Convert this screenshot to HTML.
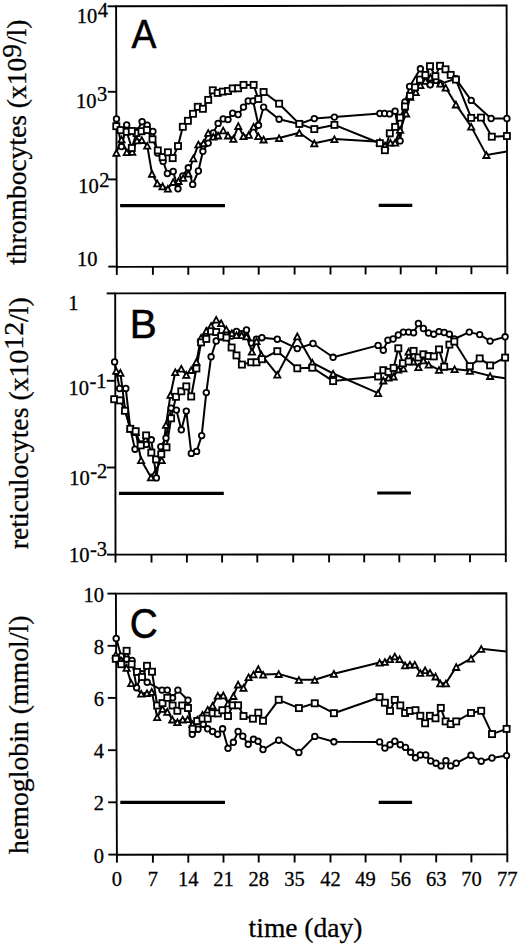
<!DOCTYPE html>
<html><head><meta charset="utf-8"><title>Figure</title>
<style>html,body{margin:0;padding:0;background:#fff;width:520px;height:944px;overflow:hidden}svg{display:block}</style>
</head><body>
<svg width="520" height="944" viewBox="0 0 520 944">
<rect width="520" height="944" fill="#fff"/>
<g fill="none" stroke="#000" stroke-width="1.9" stroke-linecap="butt">
<path d="M116.1 6.3L506.6 5.4L507.3 266.2L116.8 266.9Z"/><path d="M107.6 6.3H116.1"/><path d="M107.83 91.8H116.33"/><path d="M108.06 179.4H116.56"/><path d="M108.3 266.6H116.8"/><path d="M116.8 266.9V274.9"/><path d="M152.9 266.84V274.84"/><path d="M188.3 266.77V274.77"/><path d="M223.5 266.71V274.71"/><path d="M258.7 266.65V274.65"/><path d="M294.6 266.58V274.58"/><path d="M330.5 266.52V274.52"/><path d="M365.6 266.45V274.45"/><path d="M400.7 266.39V274.39"/><path d="M436.2 266.33V274.33"/><path d="M471.4 266.26V274.26"/><path d="M507.3 266.2V274.2"/>
<path d="M115.2 293.4L505.2 293L505.8 554.2L115.5 554.6Z"/><path d="M106.7 293.4H115.2"/><path d="M106.8 380.8H115.3"/><path d="M106.9 467.5H115.4"/><path d="M107 554.6H115.5"/><path d="M115.5 554.6V562.6"/><path d="M151.5 554.56V562.56"/><path d="M186.9 554.53V562.53"/><path d="M222.1 554.49V562.49"/><path d="M257.3 554.45V562.45"/><path d="M293.2 554.42V562.42"/><path d="M329.1 554.38V562.38"/><path d="M364.2 554.35V562.35"/><path d="M399.3 554.31V562.31"/><path d="M434.8 554.27V562.27"/><path d="M470 554.24V562.24"/><path d="M505.8 554.2V562.2"/>
<path d="M115.9 593.6L506.4 593.3L507.3 854.3L116.9 854.7Z"/><path d="M107.4 593.6H115.9"/><path d="M107.6 645.8H116.1"/><path d="M107.8 697.9H116.3"/><path d="M108 750.2H116.5"/><path d="M108.2 802.3H116.7"/><path d="M108.4 854.6H116.9"/><path d="M116.9 854.7V862.7"/><path d="M152.9 854.66V862.66"/><path d="M188.3 854.63V862.63"/><path d="M223.5 854.59V862.59"/><path d="M258.7 854.55V862.55"/><path d="M294.6 854.52V862.52"/><path d="M330.5 854.48V862.48"/><path d="M365.6 854.45V862.45"/><path d="M400.7 854.41V862.41"/><path d="M436.2 854.37V862.37"/><path d="M471.4 854.34V862.34"/><path d="M507.3 854.3V862.3"/>
</g>
<g stroke="#000" stroke-linecap="butt">
<path d="M120.1 205.6H225" stroke-width="3.2"/>
<path d="M378.7 205.4H412.3" stroke-width="3.2"/>
<path d="M118.9 493.4H223.8" stroke-width="3.2"/>
<path d="M377.2 493H410.9" stroke-width="3.2"/>
<path d="M120.3 802.4H225" stroke-width="3.2"/>
<path d="M378.7 802.4H412.1" stroke-width="3.2"/>
</g>
<g fill="none" stroke="#000" stroke-width="2.0" stroke-linejoin="round"><polyline points="116.5,118.9 121.5,146.6 126.7,124.9 131.8,131 137,131 142.1,121.7 147.2,125.2 152.9,131.4 157.6,153 163.1,161.4 167.4,173.5 173.2,171.5 178,188.8 182.8,175.9 188.3,167.8 192.7,184.4 198.4,171 202.9,151.3 208.2,143.1 213.3,132.9 218.1,123.4 223.2,118.9 228,119.6 232.7,113.2 238.1,114.5 243.5,107.1 248.2,101 253.1,101 258.5,125.3 263.6,107.1 279.1,119.2 299.3,124 314.3,118.6 334.4,117.1 379.9,113.5 384.6,113.5 389.6,113.9 395.1,111.2 400.1,140.9 405,101.9 409.6,86.5 420.4,68.8 425.4,76 430,84.6 436,80.4 440.7,83.6 455.9,78.8 471.2,100.4 491.1,118.5 506.9,118.5"/><polyline points="116.3,126.2 120.6,130.1 126.7,131.8 131.8,148 136.5,133 141.5,131.2 146.9,130 152.5,139.3 157.8,150.4 162.6,157.1 167.9,152.3 172.7,158.1 178,146.1 182.8,126.8 187.9,120.8 193,113.8 197.8,106.8 202.9,108.8 208.2,99.9 212.8,90.3 217.7,92.9 222.8,91.6 228,91 232.7,88.4 238.1,88.3 243.5,84.9 253.6,84.9 258.3,99 263.6,92 279.1,103.7 299.3,123.9 314.3,129.1 334.4,124.9 379.9,143.2 384.9,150.2 389.8,133.3 395.1,126.9 400.1,117.6 405,106.5 410,96 415,87.3 420,79.6 425.4,75 430,66.2 435.4,76.2 440,65.8 445.5,69.3 450.7,74.9 455.9,79.6 471.2,117.9 481,117.6 491.8,136.7 506.9,136"/><polyline points="116.4,152.7 121.5,139.3 126.8,152 132.2,151.8 137,140.3 141.8,139.9 147.2,145.5 152,173.7 157.3,183.3 162.6,186.2 167.9,188.6 173.2,181.9 178.5,180.9 183.2,177.8 188.3,173.5 193.3,158.3 198.4,144.3 203.5,143 208.2,132.8 213.3,136.6 218.1,135.4 223.2,130.3 228,135.4 233.4,138.7 238.3,125.9 243.5,136 248.8,134.7 253.6,126.6 258.3,136 263.6,139.4 279.1,138 299.3,132.7 314.3,143.2 334.4,139 379.9,141.8 385,145.3 390.4,142.5 395.1,142.5 400.1,129.7 406.1,113.4 410.2,96.8 415.8,92 420.4,85.1 425.5,80.8 430.4,77.4 440.4,83.5 445.7,87.6 455.9,104.4 471.2,126.6 486.4,154.9 506.9,151.5"/></g><g fill="#fff" stroke="#000" stroke-width="1.8"><circle cx="116.5" cy="118.9" r="2.8"/><circle cx="121.5" cy="146.6" r="2.8"/><circle cx="126.7" cy="124.9" r="2.8"/><circle cx="131.8" cy="131" r="2.8"/><circle cx="137" cy="131" r="2.8"/><circle cx="142.1" cy="121.7" r="2.8"/><circle cx="147.2" cy="125.2" r="2.8"/><circle cx="152.9" cy="131.4" r="2.8"/><circle cx="157.6" cy="153" r="2.8"/><circle cx="163.1" cy="161.4" r="2.8"/><circle cx="167.4" cy="173.5" r="2.8"/><circle cx="173.2" cy="171.5" r="2.8"/><circle cx="178" cy="188.8" r="2.8"/><circle cx="182.8" cy="175.9" r="2.8"/><circle cx="188.3" cy="167.8" r="2.8"/><circle cx="192.7" cy="184.4" r="2.8"/><circle cx="198.4" cy="171" r="2.8"/><circle cx="202.9" cy="151.3" r="2.8"/><circle cx="208.2" cy="143.1" r="2.8"/><circle cx="213.3" cy="132.9" r="2.8"/><circle cx="218.1" cy="123.4" r="2.8"/><circle cx="223.2" cy="118.9" r="2.8"/><circle cx="228" cy="119.6" r="2.8"/><circle cx="232.7" cy="113.2" r="2.8"/><circle cx="238.1" cy="114.5" r="2.8"/><circle cx="243.5" cy="107.1" r="2.8"/><circle cx="248.2" cy="101" r="2.8"/><circle cx="253.1" cy="101" r="2.8"/><circle cx="258.5" cy="125.3" r="2.8"/><circle cx="263.6" cy="107.1" r="2.8"/><circle cx="279.1" cy="119.2" r="2.8"/><circle cx="299.3" cy="124" r="2.8"/><circle cx="314.3" cy="118.6" r="2.8"/><circle cx="334.4" cy="117.1" r="2.8"/><circle cx="379.9" cy="113.5" r="2.8"/><circle cx="384.6" cy="113.5" r="2.8"/><circle cx="389.6" cy="113.9" r="2.8"/><circle cx="395.1" cy="111.2" r="2.8"/><circle cx="400.1" cy="140.9" r="2.8"/><circle cx="405" cy="101.9" r="2.8"/><circle cx="409.6" cy="86.5" r="2.8"/><circle cx="420.4" cy="68.8" r="2.8"/><circle cx="425.4" cy="76" r="2.8"/><circle cx="430" cy="84.6" r="2.8"/><circle cx="436" cy="80.4" r="2.8"/><circle cx="440.7" cy="83.6" r="2.8"/><circle cx="455.9" cy="78.8" r="2.8"/><circle cx="471.2" cy="100.4" r="2.8"/><circle cx="491.1" cy="118.5" r="2.8"/><circle cx="506.9" cy="118.5" r="2.8"/><path d="M116.4 150L119.5 155.8L113.3 155.8Z"/><path d="M121.5 136.6L124.6 142.4L118.4 142.4Z"/><path d="M126.8 149.3L129.9 155.1L123.7 155.1Z"/><path d="M132.2 149.1L135.3 154.9L129.1 154.9Z"/><path d="M137 137.6L140.1 143.4L133.9 143.4Z"/><path d="M141.8 137.2L144.9 143L138.7 143Z"/><path d="M147.2 142.8L150.3 148.6L144.1 148.6Z"/><path d="M152 171L155.1 176.8L148.9 176.8Z"/><path d="M157.3 180.6L160.4 186.4L154.2 186.4Z"/><path d="M162.6 183.5L165.7 189.3L159.5 189.3Z"/><path d="M167.9 185.9L171 191.7L164.8 191.7Z"/><path d="M173.2 179.2L176.3 185L170.1 185Z"/><path d="M178.5 178.2L181.6 184L175.4 184Z"/><path d="M183.2 175.1L186.3 180.9L180.1 180.9Z"/><path d="M188.3 170.8L191.4 176.6L185.2 176.6Z"/><path d="M193.3 155.6L196.4 161.4L190.2 161.4Z"/><path d="M198.4 141.6L201.5 147.4L195.3 147.4Z"/><path d="M203.5 140.3L206.6 146.1L200.4 146.1Z"/><path d="M208.2 130.1L211.3 135.9L205.1 135.9Z"/><path d="M213.3 133.9L216.4 139.7L210.2 139.7Z"/><path d="M218.1 132.7L221.2 138.5L215 138.5Z"/><path d="M223.2 127.6L226.3 133.4L220.1 133.4Z"/><path d="M228 132.7L231.1 138.5L224.9 138.5Z"/><path d="M233.4 136L236.5 141.8L230.3 141.8Z"/><path d="M238.3 123.2L241.4 129L235.2 129Z"/><path d="M243.5 133.3L246.6 139.1L240.4 139.1Z"/><path d="M248.8 132L251.9 137.8L245.7 137.8Z"/><path d="M253.6 123.9L256.7 129.7L250.5 129.7Z"/><path d="M258.3 133.3L261.4 139.1L255.2 139.1Z"/><path d="M263.6 136.7L266.7 142.5L260.5 142.5Z"/><path d="M279.1 135.3L282.2 141.1L276 141.1Z"/><path d="M299.3 130L302.4 135.8L296.2 135.8Z"/><path d="M314.3 140.5L317.4 146.3L311.2 146.3Z"/><path d="M334.4 136.3L337.5 142.1L331.3 142.1Z"/><path d="M379.9 139.1L383 144.9L376.8 144.9Z"/><path d="M385 142.6L388.1 148.4L381.9 148.4Z"/><path d="M390.4 139.8L393.5 145.6L387.3 145.6Z"/><path d="M395.1 139.8L398.2 145.6L392 145.6Z"/><path d="M400.1 127L403.2 132.8L397 132.8Z"/><path d="M406.1 110.7L409.2 116.5L403 116.5Z"/><path d="M410.2 94.1L413.3 99.9L407.1 99.9Z"/><path d="M415.8 89.3L418.9 95.1L412.7 95.1Z"/><path d="M420.4 82.4L423.5 88.2L417.3 88.2Z"/><path d="M425.5 78.1L428.6 83.9L422.4 83.9Z"/><path d="M430.4 74.7L433.5 80.5L427.3 80.5Z"/><path d="M440.4 80.8L443.5 86.6L437.3 86.6Z"/><path d="M445.7 84.9L448.8 90.7L442.6 90.7Z"/><path d="M455.9 101.7L459 107.5L452.8 107.5Z"/><path d="M471.2 123.9L474.3 129.7L468.1 129.7Z"/><path d="M486.4 152.2L489.5 158L483.3 158Z"/><rect x="113.25" y="123.15" width="6.1" height="6.1"/><rect x="117.55" y="127.05" width="6.1" height="6.1"/><rect x="123.65" y="128.75" width="6.1" height="6.1"/><rect x="128.75" y="144.95" width="6.1" height="6.1"/><rect x="133.45" y="129.95" width="6.1" height="6.1"/><rect x="138.45" y="128.15" width="6.1" height="6.1"/><rect x="143.85" y="126.95" width="6.1" height="6.1"/><rect x="149.45" y="136.25" width="6.1" height="6.1"/><rect x="154.75" y="147.35" width="6.1" height="6.1"/><rect x="159.55" y="154.05" width="6.1" height="6.1"/><rect x="164.85" y="149.25" width="6.1" height="6.1"/><rect x="169.65" y="155.05" width="6.1" height="6.1"/><rect x="174.95" y="143.05" width="6.1" height="6.1"/><rect x="179.75" y="123.75" width="6.1" height="6.1"/><rect x="184.85" y="117.75" width="6.1" height="6.1"/><rect x="189.95" y="110.75" width="6.1" height="6.1"/><rect x="194.75" y="103.75" width="6.1" height="6.1"/><rect x="199.85" y="105.75" width="6.1" height="6.1"/><rect x="205.15" y="96.85" width="6.1" height="6.1"/><rect x="209.75" y="87.25" width="6.1" height="6.1"/><rect x="214.65" y="89.85" width="6.1" height="6.1"/><rect x="219.75" y="88.55" width="6.1" height="6.1"/><rect x="224.95" y="87.95" width="6.1" height="6.1"/><rect x="229.65" y="85.35" width="6.1" height="6.1"/><rect x="235.05" y="85.25" width="6.1" height="6.1"/><rect x="240.45" y="81.85" width="6.1" height="6.1"/><rect x="250.55" y="81.85" width="6.1" height="6.1"/><rect x="255.25" y="95.95" width="6.1" height="6.1"/><rect x="260.55" y="88.95" width="6.1" height="6.1"/><rect x="276.05" y="100.65" width="6.1" height="6.1"/><rect x="296.25" y="120.85" width="6.1" height="6.1"/><rect x="311.25" y="126.05" width="6.1" height="6.1"/><rect x="331.35" y="121.85" width="6.1" height="6.1"/><rect x="376.85" y="140.15" width="6.1" height="6.1"/><rect x="381.85" y="147.15" width="6.1" height="6.1"/><rect x="386.75" y="130.25" width="6.1" height="6.1"/><rect x="392.05" y="123.85" width="6.1" height="6.1"/><rect x="397.05" y="114.55" width="6.1" height="6.1"/><rect x="401.95" y="103.45" width="6.1" height="6.1"/><rect x="406.95" y="92.95" width="6.1" height="6.1"/><rect x="411.95" y="84.25" width="6.1" height="6.1"/><rect x="416.95" y="76.55" width="6.1" height="6.1"/><rect x="422.35" y="71.95" width="6.1" height="6.1"/><rect x="426.95" y="63.15" width="6.1" height="6.1"/><rect x="432.35" y="73.15" width="6.1" height="6.1"/><rect x="436.95" y="62.75" width="6.1" height="6.1"/><rect x="442.45" y="66.25" width="6.1" height="6.1"/><rect x="447.65" y="71.85" width="6.1" height="6.1"/><rect x="452.85" y="76.55" width="6.1" height="6.1"/><rect x="468.15" y="114.85" width="6.1" height="6.1"/><rect x="477.95" y="114.55" width="6.1" height="6.1"/><rect x="488.75" y="133.65" width="6.1" height="6.1"/><rect x="503.85" y="132.95" width="6.1" height="6.1"/><rect x="128.75" y="127.95" width="6.1" height="6.1"/><circle cx="430.2" cy="84.8" r="2.8"/></g>
<g fill="none" stroke="#000" stroke-width="2.0" stroke-linejoin="round"><polyline points="114.6,361.9 119.6,388.5 125.8,388.5 130.3,428.6 135,449.2 140.6,444 146.2,444.4 151.3,439.8 156.4,477.9 160.8,446.7 166,438.1 171.1,408.1 176.4,410.1 181.3,429.8 186.3,411.1 191.3,453.4 196.6,451.4 201.7,435.6 206.3,392.6 211.1,356.8 216.2,341 221.3,337 226.4,335 231.8,336 236.5,331.5 241.6,333.8 246.5,330 251.5,343.1 256.5,339.2 261.9,337.7 277.3,339.2 297.3,348.6 313,343.5 333.1,357.3 378.1,345.4 383.3,350.2 387.9,340.2 393.1,339 398.3,335 403.4,332.1 408.6,332.1 413.6,332.7 418.4,323.5 423.4,328.5 428.5,333 433.8,334.2 439,331.6 444.2,332.5 449.4,334.2 454.3,339 469.3,332.1 479.7,334.6 490.1,341.1 505.1,336.8"/><polyline points="114.2,399.2 120,400.4 125,410.8 130.3,428.8 135.7,431.2 140.7,445.4 146.1,435.4 151.3,452.6 156.1,459.4 161.3,454.2 166.5,447.3 171.1,418.3 176,396.8 181.3,391.3 186.3,386.4 191.2,396.5 196.4,368.5 201.1,342.4 206.3,338.9 211.1,331.3 216.2,332 221.2,336.2 226.4,337.6 231.6,347.5 236.5,355.4 241.9,364.6 251.2,362.3 256.5,362.3 261.9,359.2 277.3,351.2 297.3,368.3 312.3,367.7 333.1,381.1 378.1,376.5 383.3,370.2 388.5,371.9 393.6,367.9 398.3,348.3 402.9,363.3 408.6,361.5 413.6,350.9 418.4,357.5 423.4,354.3 428.5,356 433.8,356.4 439,349.4 444.2,366.7 449.4,344.6 454.3,341.5 469.8,366.2 479.7,358.4 490.1,365.4 505.1,357.6"/><polyline points="116.2,370.8 120.4,372.7 125.1,410 130.3,428.5 135.7,432 141.1,460 151,477.3 161.7,460 166,424.8 170.5,394.7 175.3,372 181.3,368.5 186.3,374.7 191.2,369.9 196.4,361.7 201.1,337.5 206.3,330.7 211.1,325.8 216.2,319.6 221.2,323.1 226.3,329.3 231.9,333.1 236.5,335 241.6,335 246.5,336.2 251.9,351.5 256.5,341 261.3,354.6 277.3,374.6 297.3,336.2 312.3,362.6 333.1,373.5 378.1,393.1 383.3,380.4 388.5,377.5 393.6,376.4 398.3,369.4 403.4,368.3 408.6,351.6 413.3,361.4 418.4,367.1 423.3,360.2 428.7,364.6 439,369.8 454.6,369 469.8,370.7 490.1,375.9 505.1,378.3"/></g><g fill="#fff" stroke="#000" stroke-width="1.8"><circle cx="114.6" cy="361.9" r="2.8"/><circle cx="119.6" cy="388.5" r="2.8"/><circle cx="125.8" cy="388.5" r="2.8"/><circle cx="130.3" cy="428.6" r="2.8"/><circle cx="135" cy="449.2" r="2.8"/><circle cx="140.6" cy="444" r="2.8"/><circle cx="146.2" cy="444.4" r="2.8"/><circle cx="151.3" cy="439.8" r="2.8"/><circle cx="156.4" cy="477.9" r="2.8"/><circle cx="160.8" cy="446.7" r="2.8"/><circle cx="166" cy="438.1" r="2.8"/><circle cx="171.1" cy="408.1" r="2.8"/><circle cx="176.4" cy="410.1" r="2.8"/><circle cx="181.3" cy="429.8" r="2.8"/><circle cx="186.3" cy="411.1" r="2.8"/><circle cx="191.3" cy="453.4" r="2.8"/><circle cx="196.6" cy="451.4" r="2.8"/><circle cx="201.7" cy="435.6" r="2.8"/><circle cx="206.3" cy="392.6" r="2.8"/><circle cx="211.1" cy="356.8" r="2.8"/><circle cx="216.2" cy="341" r="2.8"/><circle cx="221.3" cy="337" r="2.8"/><circle cx="226.4" cy="335" r="2.8"/><circle cx="231.8" cy="336" r="2.8"/><circle cx="236.5" cy="331.5" r="2.8"/><circle cx="241.6" cy="333.8" r="2.8"/><circle cx="246.5" cy="330" r="2.8"/><circle cx="251.5" cy="343.1" r="2.8"/><circle cx="256.5" cy="339.2" r="2.8"/><circle cx="261.9" cy="337.7" r="2.8"/><circle cx="277.3" cy="339.2" r="2.8"/><circle cx="297.3" cy="348.6" r="2.8"/><circle cx="313" cy="343.5" r="2.8"/><circle cx="333.1" cy="357.3" r="2.8"/><circle cx="378.1" cy="345.4" r="2.8"/><circle cx="383.3" cy="350.2" r="2.8"/><circle cx="387.9" cy="340.2" r="2.8"/><circle cx="393.1" cy="339" r="2.8"/><circle cx="398.3" cy="335" r="2.8"/><circle cx="403.4" cy="332.1" r="2.8"/><circle cx="408.6" cy="332.1" r="2.8"/><circle cx="413.6" cy="332.7" r="2.8"/><circle cx="418.4" cy="323.5" r="2.8"/><circle cx="423.4" cy="328.5" r="2.8"/><circle cx="428.5" cy="333" r="2.8"/><circle cx="433.8" cy="334.2" r="2.8"/><circle cx="439" cy="331.6" r="2.8"/><circle cx="444.2" cy="332.5" r="2.8"/><circle cx="449.4" cy="334.2" r="2.8"/><circle cx="454.3" cy="339" r="2.8"/><circle cx="469.3" cy="332.1" r="2.8"/><circle cx="479.7" cy="334.6" r="2.8"/><circle cx="490.1" cy="341.1" r="2.8"/><circle cx="505.1" cy="336.8" r="2.8"/><path d="M116.2 368.1L119.3 373.9L113.1 373.9Z"/><path d="M120.4 370L123.5 375.8L117.3 375.8Z"/><path d="M125.1 407.3L128.2 413.1L122 413.1Z"/><path d="M130.3 425.8L133.4 431.6L127.2 431.6Z"/><path d="M135.7 429.3L138.8 435.1L132.6 435.1Z"/><path d="M141.1 457.3L144.2 463.1L138 463.1Z"/><path d="M151 474.6L154.1 480.4L147.9 480.4Z"/><path d="M161.7 457.3L164.8 463.1L158.6 463.1Z"/><path d="M166 422.1L169.1 427.9L162.9 427.9Z"/><path d="M170.5 392L173.6 397.8L167.4 397.8Z"/><path d="M175.3 369.3L178.4 375.1L172.2 375.1Z"/><path d="M181.3 365.8L184.4 371.6L178.2 371.6Z"/><path d="M186.3 372L189.4 377.8L183.2 377.8Z"/><path d="M191.2 367.2L194.3 373L188.1 373Z"/><path d="M196.4 359L199.5 364.8L193.3 364.8Z"/><path d="M201.1 334.8L204.2 340.6L198 340.6Z"/><path d="M206.3 328L209.4 333.8L203.2 333.8Z"/><path d="M211.1 323.1L214.2 328.9L208 328.9Z"/><path d="M216.2 316.9L219.3 322.7L213.1 322.7Z"/><path d="M221.2 320.4L224.3 326.2L218.1 326.2Z"/><path d="M226.3 326.6L229.4 332.4L223.2 332.4Z"/><path d="M231.9 330.4L235 336.2L228.8 336.2Z"/><path d="M236.5 332.3L239.6 338.1L233.4 338.1Z"/><path d="M241.6 332.3L244.7 338.1L238.5 338.1Z"/><path d="M246.5 333.5L249.6 339.3L243.4 339.3Z"/><path d="M251.9 348.8L255 354.6L248.8 354.6Z"/><path d="M256.5 338.3L259.6 344.1L253.4 344.1Z"/><path d="M261.3 351.9L264.4 357.7L258.2 357.7Z"/><path d="M277.3 371.9L280.4 377.7L274.2 377.7Z"/><path d="M297.3 333.5L300.4 339.3L294.2 339.3Z"/><path d="M312.3 359.9L315.4 365.7L309.2 365.7Z"/><path d="M333.1 370.8L336.2 376.6L330 376.6Z"/><path d="M378.1 390.4L381.2 396.2L375 396.2Z"/><path d="M383.3 377.7L386.4 383.5L380.2 383.5Z"/><path d="M388.5 374.8L391.6 380.6L385.4 380.6Z"/><path d="M393.6 373.7L396.7 379.5L390.5 379.5Z"/><path d="M398.3 366.7L401.4 372.5L395.2 372.5Z"/><path d="M403.4 365.6L406.5 371.4L400.3 371.4Z"/><path d="M408.6 348.9L411.7 354.7L405.5 354.7Z"/><path d="M413.3 358.7L416.4 364.5L410.2 364.5Z"/><path d="M418.4 364.4L421.5 370.2L415.3 370.2Z"/><path d="M423.3 357.5L426.4 363.3L420.2 363.3Z"/><path d="M428.7 361.9L431.8 367.7L425.6 367.7Z"/><path d="M439 367.1L442.1 372.9L435.9 372.9Z"/><path d="M454.6 366.3L457.7 372.1L451.5 372.1Z"/><path d="M469.8 368L472.9 373.8L466.7 373.8Z"/><path d="M490.1 373.2L493.2 379L487 379Z"/><rect x="111.15" y="396.15" width="6.1" height="6.1"/><rect x="116.95" y="397.35" width="6.1" height="6.1"/><rect x="121.95" y="407.75" width="6.1" height="6.1"/><rect x="127.25" y="425.75" width="6.1" height="6.1"/><rect x="132.65" y="428.15" width="6.1" height="6.1"/><rect x="137.65" y="442.35" width="6.1" height="6.1"/><rect x="143.05" y="432.35" width="6.1" height="6.1"/><rect x="148.25" y="449.55" width="6.1" height="6.1"/><rect x="153.05" y="456.35" width="6.1" height="6.1"/><rect x="158.25" y="451.15" width="6.1" height="6.1"/><rect x="163.45" y="444.25" width="6.1" height="6.1"/><rect x="168.05" y="415.25" width="6.1" height="6.1"/><rect x="172.95" y="393.75" width="6.1" height="6.1"/><rect x="178.25" y="388.25" width="6.1" height="6.1"/><rect x="183.25" y="383.35" width="6.1" height="6.1"/><rect x="188.15" y="393.45" width="6.1" height="6.1"/><rect x="193.35" y="365.45" width="6.1" height="6.1"/><rect x="198.05" y="339.35" width="6.1" height="6.1"/><rect x="203.25" y="335.85" width="6.1" height="6.1"/><rect x="208.05" y="328.25" width="6.1" height="6.1"/><rect x="213.15" y="328.95" width="6.1" height="6.1"/><rect x="218.15" y="333.15" width="6.1" height="6.1"/><rect x="223.35" y="334.55" width="6.1" height="6.1"/><rect x="228.55" y="344.45" width="6.1" height="6.1"/><rect x="233.45" y="352.35" width="6.1" height="6.1"/><rect x="238.85" y="361.55" width="6.1" height="6.1"/><rect x="248.15" y="359.25" width="6.1" height="6.1"/><rect x="253.45" y="359.25" width="6.1" height="6.1"/><rect x="258.85" y="356.15" width="6.1" height="6.1"/><rect x="274.25" y="348.15" width="6.1" height="6.1"/><rect x="294.25" y="365.25" width="6.1" height="6.1"/><rect x="309.25" y="364.65" width="6.1" height="6.1"/><rect x="330.05" y="378.05" width="6.1" height="6.1"/><rect x="375.05" y="373.45" width="6.1" height="6.1"/><rect x="380.25" y="367.15" width="6.1" height="6.1"/><rect x="385.45" y="368.85" width="6.1" height="6.1"/><rect x="390.55" y="364.85" width="6.1" height="6.1"/><rect x="395.25" y="345.25" width="6.1" height="6.1"/><rect x="399.85" y="360.25" width="6.1" height="6.1"/><rect x="405.55" y="358.45" width="6.1" height="6.1"/><rect x="410.55" y="347.85" width="6.1" height="6.1"/><rect x="415.35" y="354.45" width="6.1" height="6.1"/><rect x="420.35" y="351.25" width="6.1" height="6.1"/><rect x="425.45" y="352.95" width="6.1" height="6.1"/><rect x="430.75" y="353.35" width="6.1" height="6.1"/><rect x="435.95" y="346.35" width="6.1" height="6.1"/><rect x="441.15" y="363.65" width="6.1" height="6.1"/><rect x="446.35" y="341.55" width="6.1" height="6.1"/><rect x="451.25" y="338.45" width="6.1" height="6.1"/><rect x="466.75" y="363.15" width="6.1" height="6.1"/><rect x="476.65" y="355.35" width="6.1" height="6.1"/><rect x="487.05" y="362.35" width="6.1" height="6.1"/><rect x="502.05" y="354.55" width="6.1" height="6.1"/></g>
<g fill="none" stroke="#000" stroke-width="2.0" stroke-linejoin="round"><polyline points="116.2,638.5 121.2,656.2 126.6,659.2 132,660.4 136.6,687.7 142,673.8 147.2,682.3 162,690.1 167.3,690.1 172.6,697.8 177.9,690.1 188,700.2 192.3,734.3 198,729.2 203.2,724.2 207.6,728.8 212.6,731.5 217.6,734.2 222.6,728.8 228,748.3 233.4,742.3 238.1,731.5 242.8,736.2 248.2,744.3 253.5,739.3 258,741.3 263,749.5 278.7,740.2 298.9,752.5 314.8,736.4 333.9,741.8 379.6,741.9 384.9,748.1 390,744.7 394.8,741.2 400.3,744.7 405.5,747.4 410.6,752.3 415.5,757.8 420.3,755 425.8,755 430.7,761 436,763.2 441.1,765.9 445.9,760.7 450.7,765.9 456.2,763.2 471,755.3 481.2,761.2 492,758 506.6,755.6"/><polyline points="115.8,658.8 121.2,664.2 126.6,650.8 131.6,664.2 137,671.9 142,677 147,665.8 152,671.7 157.2,705.5 162.5,703.1 167.3,697.8 172.6,705.5 177.4,710.8 182.2,705.5 188,708 192.6,728.8 197.2,721 202.5,718.6 207.7,718.7 212.6,713.2 217.8,713.4 222.3,710.2 228,716 232.7,705.3 238.1,705.3 243.5,716 252.9,718.7 258.3,712.7 263,720.8 278.7,699.8 298.9,708.1 314.8,703.3 333.9,713.2 379.6,697.2 384.9,702.7 390,710.9 394.8,699.9 400.3,705.4 405.1,713 409.9,710.9 415.5,710.2 420.3,715.8 425.1,723.3 429.9,715.8 435.5,718.3 440.8,707.9 445.6,721.4 450.7,724.1 456.2,721.4 471,713 481.2,710.8 492,734.1 506.6,728.9"/><polyline points="115.8,654.6 121,660 126.6,667.7 131.2,683.1 141.2,693.5 147,693.1 151.7,691.7 157.2,717 162.5,708.8 167.3,711.7 172.3,719.4 177.4,722 182.7,719.4 187.7,719 192.5,724 197.2,719.5 202.5,714.5 207.7,709.5 212.6,705.5 217.8,695.5 223.3,695.2 228,703.3 233.4,695.9 238.1,684.4 243.5,687.8 248.6,677 253.5,674.3 258.3,668.9 263.1,674.5 278.7,673.9 298.9,679.8 314.8,679.8 333.9,673.7 379.6,662.5 384.9,661.8 390,659 394.8,656.3 399.6,659 405.1,665.2 409.9,664.5 414.8,664.5 420.3,672.8 425.1,670 430,672.6 435.6,676.4 440.3,683.3 445.9,683.3 456.2,666.9 471,658.6 481.2,648.8 506.3,651.5"/></g><g fill="#fff" stroke="#000" stroke-width="1.8"><circle cx="116.2" cy="638.5" r="2.8"/><circle cx="121.2" cy="656.2" r="2.8"/><circle cx="126.6" cy="659.2" r="2.8"/><circle cx="132" cy="660.4" r="2.8"/><circle cx="136.6" cy="687.7" r="2.8"/><circle cx="142" cy="673.8" r="2.8"/><circle cx="147.2" cy="682.3" r="2.8"/><circle cx="162" cy="690.1" r="2.8"/><circle cx="167.3" cy="690.1" r="2.8"/><circle cx="172.6" cy="697.8" r="2.8"/><circle cx="177.9" cy="690.1" r="2.8"/><circle cx="188" cy="700.2" r="2.8"/><circle cx="192.3" cy="734.3" r="2.8"/><circle cx="198" cy="729.2" r="2.8"/><circle cx="203.2" cy="724.2" r="2.8"/><circle cx="207.6" cy="728.8" r="2.8"/><circle cx="212.6" cy="731.5" r="2.8"/><circle cx="217.6" cy="734.2" r="2.8"/><circle cx="222.6" cy="728.8" r="2.8"/><circle cx="228" cy="748.3" r="2.8"/><circle cx="233.4" cy="742.3" r="2.8"/><circle cx="238.1" cy="731.5" r="2.8"/><circle cx="242.8" cy="736.2" r="2.8"/><circle cx="248.2" cy="744.3" r="2.8"/><circle cx="253.5" cy="739.3" r="2.8"/><circle cx="258" cy="741.3" r="2.8"/><circle cx="263" cy="749.5" r="2.8"/><circle cx="278.7" cy="740.2" r="2.8"/><circle cx="298.9" cy="752.5" r="2.8"/><circle cx="314.8" cy="736.4" r="2.8"/><circle cx="333.9" cy="741.8" r="2.8"/><circle cx="379.6" cy="741.9" r="2.8"/><circle cx="384.9" cy="748.1" r="2.8"/><circle cx="390" cy="744.7" r="2.8"/><circle cx="394.8" cy="741.2" r="2.8"/><circle cx="400.3" cy="744.7" r="2.8"/><circle cx="405.5" cy="747.4" r="2.8"/><circle cx="410.6" cy="752.3" r="2.8"/><circle cx="415.5" cy="757.8" r="2.8"/><circle cx="420.3" cy="755" r="2.8"/><circle cx="425.8" cy="755" r="2.8"/><circle cx="430.7" cy="761" r="2.8"/><circle cx="436" cy="763.2" r="2.8"/><circle cx="441.1" cy="765.9" r="2.8"/><circle cx="445.9" cy="760.7" r="2.8"/><circle cx="450.7" cy="765.9" r="2.8"/><circle cx="456.2" cy="763.2" r="2.8"/><circle cx="471" cy="755.3" r="2.8"/><circle cx="481.2" cy="761.2" r="2.8"/><circle cx="492" cy="758" r="2.8"/><circle cx="506.6" cy="755.6" r="2.8"/><path d="M115.8 651.9L118.9 657.7L112.7 657.7Z"/><path d="M121 657.3L124.1 663.1L117.9 663.1Z"/><path d="M126.6 665L129.7 670.8L123.5 670.8Z"/><path d="M131.2 680.4L134.3 686.2L128.1 686.2Z"/><path d="M141.2 690.8L144.3 696.6L138.1 696.6Z"/><path d="M147 690.4L150.1 696.2L143.9 696.2Z"/><path d="M151.7 689L154.8 694.8L148.6 694.8Z"/><path d="M157.2 714.3L160.3 720.1L154.1 720.1Z"/><path d="M162.5 706.1L165.6 711.9L159.4 711.9Z"/><path d="M167.3 709L170.4 714.8L164.2 714.8Z"/><path d="M172.3 716.7L175.4 722.5L169.2 722.5Z"/><path d="M177.4 719.3L180.5 725.1L174.3 725.1Z"/><path d="M182.7 716.7L185.8 722.5L179.6 722.5Z"/><path d="M187.7 716.3L190.8 722.1L184.6 722.1Z"/><path d="M192.5 721.3L195.6 727.1L189.4 727.1Z"/><path d="M197.2 716.8L200.3 722.6L194.1 722.6Z"/><path d="M202.5 711.8L205.6 717.6L199.4 717.6Z"/><path d="M207.7 706.8L210.8 712.6L204.6 712.6Z"/><path d="M212.6 702.8L215.7 708.6L209.5 708.6Z"/><path d="M217.8 692.8L220.9 698.6L214.7 698.6Z"/><path d="M223.3 692.5L226.4 698.3L220.2 698.3Z"/><path d="M228 700.6L231.1 706.4L224.9 706.4Z"/><path d="M233.4 693.2L236.5 699L230.3 699Z"/><path d="M238.1 681.7L241.2 687.5L235 687.5Z"/><path d="M243.5 685.1L246.6 690.9L240.4 690.9Z"/><path d="M248.6 674.3L251.7 680.1L245.5 680.1Z"/><path d="M253.5 671.6L256.6 677.4L250.4 677.4Z"/><path d="M258.3 666.2L261.4 672L255.2 672Z"/><path d="M263.1 671.8L266.2 677.6L260 677.6Z"/><path d="M278.7 671.2L281.8 677L275.6 677Z"/><path d="M298.9 677.1L302 682.9L295.8 682.9Z"/><path d="M314.8 677.1L317.9 682.9L311.7 682.9Z"/><path d="M333.9 671L337 676.8L330.8 676.8Z"/><path d="M379.6 659.8L382.7 665.6L376.5 665.6Z"/><path d="M384.9 659.1L388 664.9L381.8 664.9Z"/><path d="M390 656.3L393.1 662.1L386.9 662.1Z"/><path d="M394.8 653.6L397.9 659.4L391.7 659.4Z"/><path d="M399.6 656.3L402.7 662.1L396.5 662.1Z"/><path d="M405.1 662.5L408.2 668.3L402 668.3Z"/><path d="M409.9 661.8L413 667.6L406.8 667.6Z"/><path d="M414.8 661.8L417.9 667.6L411.7 667.6Z"/><path d="M420.3 670.1L423.4 675.9L417.2 675.9Z"/><path d="M425.1 667.3L428.2 673.1L422 673.1Z"/><path d="M430 669.9L433.1 675.7L426.9 675.7Z"/><path d="M435.6 673.7L438.7 679.5L432.5 679.5Z"/><path d="M440.3 680.6L443.4 686.4L437.2 686.4Z"/><path d="M445.9 680.6L449 686.4L442.8 686.4Z"/><path d="M456.2 664.2L459.3 670L453.1 670Z"/><path d="M471 655.9L474.1 661.7L467.9 661.7Z"/><path d="M481.2 646.1L484.3 651.9L478.1 651.9Z"/><rect x="112.75" y="655.75" width="6.1" height="6.1"/><rect x="118.15" y="661.15" width="6.1" height="6.1"/><rect x="123.55" y="647.75" width="6.1" height="6.1"/><rect x="128.55" y="661.15" width="6.1" height="6.1"/><rect x="133.95" y="668.85" width="6.1" height="6.1"/><rect x="138.95" y="673.95" width="6.1" height="6.1"/><rect x="143.95" y="662.75" width="6.1" height="6.1"/><rect x="148.95" y="668.65" width="6.1" height="6.1"/><rect x="154.15" y="702.45" width="6.1" height="6.1"/><rect x="159.45" y="700.05" width="6.1" height="6.1"/><rect x="164.25" y="694.75" width="6.1" height="6.1"/><rect x="169.55" y="702.45" width="6.1" height="6.1"/><rect x="174.35" y="707.75" width="6.1" height="6.1"/><rect x="179.15" y="702.45" width="6.1" height="6.1"/><rect x="184.95" y="704.95" width="6.1" height="6.1"/><rect x="189.55" y="725.75" width="6.1" height="6.1"/><rect x="194.15" y="717.95" width="6.1" height="6.1"/><rect x="199.45" y="715.55" width="6.1" height="6.1"/><rect x="204.65" y="715.65" width="6.1" height="6.1"/><rect x="209.55" y="710.15" width="6.1" height="6.1"/><rect x="214.75" y="710.35" width="6.1" height="6.1"/><rect x="219.25" y="707.15" width="6.1" height="6.1"/><rect x="224.95" y="712.95" width="6.1" height="6.1"/><rect x="229.65" y="702.25" width="6.1" height="6.1"/><rect x="235.05" y="702.25" width="6.1" height="6.1"/><rect x="240.45" y="712.95" width="6.1" height="6.1"/><rect x="249.85" y="715.65" width="6.1" height="6.1"/><rect x="255.25" y="709.65" width="6.1" height="6.1"/><rect x="259.95" y="717.75" width="6.1" height="6.1"/><rect x="275.65" y="696.75" width="6.1" height="6.1"/><rect x="295.85" y="705.05" width="6.1" height="6.1"/><rect x="311.75" y="700.25" width="6.1" height="6.1"/><rect x="330.85" y="710.15" width="6.1" height="6.1"/><rect x="376.55" y="694.15" width="6.1" height="6.1"/><rect x="381.85" y="699.65" width="6.1" height="6.1"/><rect x="386.95" y="707.85" width="6.1" height="6.1"/><rect x="391.75" y="696.85" width="6.1" height="6.1"/><rect x="397.25" y="702.35" width="6.1" height="6.1"/><rect x="402.05" y="709.95" width="6.1" height="6.1"/><rect x="406.85" y="707.85" width="6.1" height="6.1"/><rect x="412.45" y="707.15" width="6.1" height="6.1"/><rect x="417.25" y="712.75" width="6.1" height="6.1"/><rect x="422.05" y="720.25" width="6.1" height="6.1"/><rect x="426.85" y="712.75" width="6.1" height="6.1"/><rect x="432.45" y="715.25" width="6.1" height="6.1"/><rect x="437.75" y="704.85" width="6.1" height="6.1"/><rect x="442.55" y="718.35" width="6.1" height="6.1"/><rect x="447.65" y="721.05" width="6.1" height="6.1"/><rect x="453.15" y="718.35" width="6.1" height="6.1"/><rect x="467.95" y="709.95" width="6.1" height="6.1"/><rect x="478.15" y="707.75" width="6.1" height="6.1"/><rect x="488.95" y="731.05" width="6.1" height="6.1"/><rect x="503.55" y="725.85" width="6.1" height="6.1"/></g>
<g fill="#000" stroke="#000" stroke-width="0.3">
<text x="76.66" y="23.1" font-size="20.5" text-anchor="start" font-family="Liberation Serif" >10</text><text x="97.66" y="16.8" font-size="20.5" text-anchor="start" font-family="Liberation Serif" >4</text>
<text x="75.95" y="107.7" font-size="20.5" text-anchor="start" font-family="Liberation Serif" >10</text><text x="96.95" y="101.4" font-size="20.5" text-anchor="start" font-family="Liberation Serif" >3</text>
<text x="78.16" y="193.3" font-size="20.5" text-anchor="start" font-family="Liberation Serif" >10</text><text x="99.16" y="187" font-size="20.5" text-anchor="start" font-family="Liberation Serif" >2</text>
<text x="77.06" y="266.3" font-size="20.5" text-anchor="start" font-family="Liberation Serif" >10</text>
<text x="68.16" y="309.6" font-size="20.5" text-anchor="start" font-family="Liberation Serif" >1</text>
<text x="68.45" y="394.6" font-size="20.5" text-anchor="start" font-family="Liberation Serif" >10</text><text x="89.45" y="388.3" font-size="20.5" text-anchor="start" font-family="Liberation Serif" >-1</text>
<text x="69.16" y="484.6" font-size="20.5" text-anchor="start" font-family="Liberation Serif" >10</text><text x="90.16" y="478.3" font-size="20.5" text-anchor="start" font-family="Liberation Serif" >-2</text>
<text x="68.95" y="561.9" font-size="20.5" text-anchor="start" font-family="Liberation Serif" >10</text><text x="89.95" y="555.6" font-size="20.5" text-anchor="start" font-family="Liberation Serif" >-3</text>
<text x="104" y="602" font-size="20.5" text-anchor="end" font-family="Liberation Serif" >10</text>
<text x="104" y="654.3" font-size="20.5" text-anchor="end" font-family="Liberation Serif" >8</text>
<text x="104" y="706.2" font-size="20.5" text-anchor="end" font-family="Liberation Serif" >6</text>
<text x="104" y="758.3" font-size="20.5" text-anchor="end" font-family="Liberation Serif" >4</text>
<text x="104" y="810.2" font-size="20.5" text-anchor="end" font-family="Liberation Serif" >2</text>
<text x="104" y="862.8" font-size="20.5" text-anchor="end" font-family="Liberation Serif" >0</text>
<text x="116.9" y="885.6" font-size="20.5" text-anchor="middle" font-family="Liberation Serif" >0</text>
<text x="152.9" y="885.6" font-size="20.5" text-anchor="middle" font-family="Liberation Serif" >7</text>
<text x="188.3" y="885.6" font-size="20.5" text-anchor="middle" font-family="Liberation Serif" >14</text>
<text x="223.5" y="885.6" font-size="20.5" text-anchor="middle" font-family="Liberation Serif" >21</text>
<text x="258.7" y="885.6" font-size="20.5" text-anchor="middle" font-family="Liberation Serif" >28</text>
<text x="294.6" y="885.6" font-size="20.5" text-anchor="middle" font-family="Liberation Serif" >35</text>
<text x="330.5" y="885.6" font-size="20.5" text-anchor="middle" font-family="Liberation Serif" >42</text>
<text x="365.6" y="885.6" font-size="20.5" text-anchor="middle" font-family="Liberation Serif" >49</text>
<text x="400.7" y="885.6" font-size="20.5" text-anchor="middle" font-family="Liberation Serif" >56</text>
<text x="436.2" y="885.6" font-size="20.5" text-anchor="middle" font-family="Liberation Serif" >63</text>
<text x="471.4" y="885.6" font-size="20.5" text-anchor="middle" font-family="Liberation Serif" >70</text>
<text x="507.3" y="885.6" font-size="20.5" text-anchor="middle" font-family="Liberation Serif" >77</text>
<text x="305.5" y="937" font-size="27.5" text-anchor="middle" font-family="Liberation Serif" >time (day)</text>
<text transform="translate(25.5 264.8) rotate(-90)" font-size="27.5" font-family="Liberation Serif">thrombocytes (x10<tspan dy="-4.8">9</tspan><tspan dy="4.8">/l)</tspan></text>
<text transform="translate(28 549.3) rotate(-90)" font-size="27.75" font-family="Liberation Serif">reticulocytes (x10<tspan dy="-4.8">12</tspan><tspan dy="4.8">/l)</tspan></text>
<text transform="translate(27.7 853.9) rotate(-90)" font-size="27.78" font-family="Liberation Serif">hemoglobin (mmol/l)</text>
<text x="131.6" y="48.0" font-size="41.5" font-family="Liberation Sans" stroke-width="0.55" transform="translate(131.6 0) scale(0.9 1) translate(-131.6 0)">A</text>
<text x="129.68" y="337.6" font-size="40.5" font-family="Liberation Sans" stroke-width="0.55">B</text>
<text x="131" y="637.6" font-size="42.4" font-family="Liberation Sans" stroke-width="0.55" transform="translate(131 0) scale(0.914 1) translate(-131 0) translate(-1.3 0)">C</text>
</g>
</svg>
</body></html>
